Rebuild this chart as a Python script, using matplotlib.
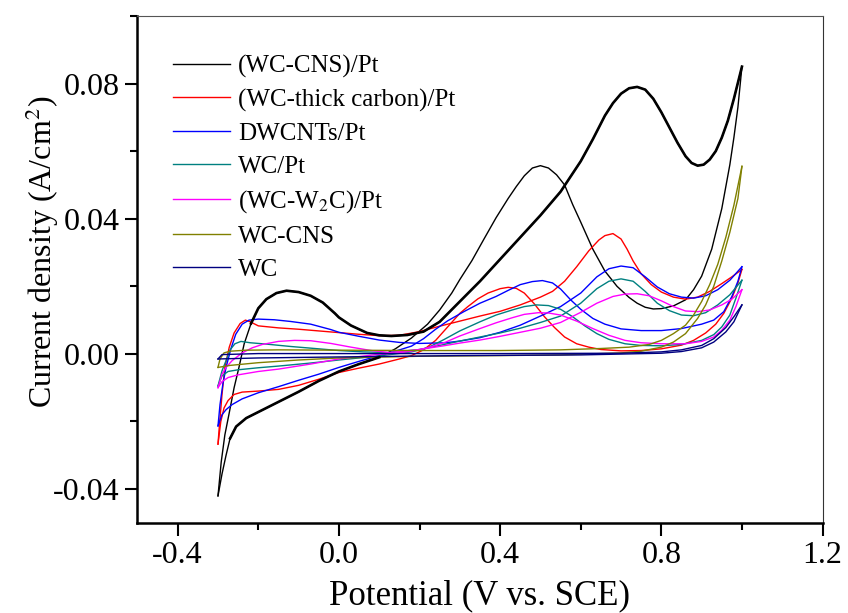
import matplotlib
matplotlib.use("Agg")
import matplotlib.pyplot as plt
from matplotlib.ticker import MultipleLocator

plt.rcParams['font.family'] = ['Liberation Serif', 'DejaVu Serif']
plt.rcParams['mathtext.fontset'] = 'stix'

# (WC-CNS)/Pt
v_cnspt_f = [-0.300, -0.292, -0.283, -0.273, -0.260, -0.248, -0.235, -0.218, -0.200, -0.180,
             -0.155, -0.130, -0.100, -0.070, -0.040, -0.010, 0.000, 0.030, 0.070, 0.100,
             0.130, 0.170, 0.210, 0.250, 0.300, 0.350, 0.400, 0.450, 0.500, 0.550,
             0.600, 0.630, 0.660, 0.680, 0.700, 0.720, 0.740, 0.760, 0.780, 0.800,
             0.820, 0.840, 0.860, 0.875, 0.890, 0.905, 0.920, 0.935, 0.950, 0.965,
             0.980, 1.000]
j_cnspt_f = [-0.0420, -0.0320, -0.0240, -0.0180, -0.0100, -0.0040, 0.0030, 0.0090, 0.0135, 0.0162,
             0.0180, 0.0187, 0.0183, 0.0172, 0.0152, 0.0120, 0.0108, 0.0084, 0.0062, 0.0055,
             0.0053, 0.0056, 0.0066, 0.0095, 0.0155, 0.0215, 0.0280, 0.0345, 0.0410, 0.0480,
             0.0570, 0.0635, 0.0705, 0.0742, 0.0770, 0.0786, 0.0790, 0.0782, 0.0755, 0.0715,
             0.0670, 0.0625, 0.0585, 0.0565, 0.0557, 0.0560, 0.0575, 0.0600, 0.0640, 0.0690,
             0.0755, 0.0850]
v_cnspt_b = [1.000, 0.990, 0.980, 0.970, 0.950, 0.925, 0.900, 0.880, 0.860, 0.830,
             0.800, 0.780, 0.760, 0.740, 0.720, 0.690, 0.660, 0.630, 0.600, 0.580,
             0.560, 0.540, 0.520, 0.500, 0.480, 0.460, 0.440, 0.420, 0.390, 0.360,
             0.330, 0.300, 0.280, 0.250, 0.220, 0.180, 0.140, 0.100, 0.050, 0.000,
             -0.050, -0.100, -0.150, -0.200, -0.230, -0.255, -0.270, -0.280, -0.290, -0.300]
j_cnspt_b = [0.0850, 0.0730, 0.0640, 0.0560, 0.0430, 0.0310, 0.0230, 0.0190, 0.0160, 0.0142,
             0.0134, 0.0133, 0.0138, 0.0150, 0.0167, 0.0200, 0.0245, 0.0310, 0.0390, 0.0442,
             0.0500, 0.0530, 0.0550, 0.0557, 0.0550, 0.0527, 0.0495, 0.0460, 0.0403, 0.0340,
             0.0276, 0.0220, 0.0180, 0.0130, 0.0088, 0.0047, 0.0015, -0.0010, -0.0030, -0.0052,
             -0.0080, -0.0112, -0.0142, -0.0172, -0.0190, -0.0215, -0.0250, -0.0300, -0.0355, -0.0420]

# (WC-thick carbon)/Pt
v_thick_f = [-0.300, -0.297, -0.290, -0.283, -0.272, -0.260, -0.245, -0.232, -0.220, -0.200,
             -0.150, -0.100, -0.050, 0.000, 0.050, 0.100, 0.150, 0.200, 0.250, 0.300,
             0.350, 0.400, 0.450, 0.500, 0.530, 0.560, 0.590, 0.620, 0.645, 0.660,
             0.680, 0.700, 0.715, 0.730, 0.750, 0.775, 0.800, 0.830, 0.860, 0.890,
             0.920, 0.950, 0.975, 1.000]
j_thick_f = [-0.0267, -0.0220, -0.0120, -0.0040, 0.0020, 0.0062, 0.0090, 0.0100, 0.0095, 0.0083,
             0.0077, 0.0073, 0.0068, 0.0063, 0.0058, 0.0054, 0.0055, 0.0066, 0.0082, 0.0097,
             0.0112, 0.0126, 0.0145, 0.0168, 0.0185, 0.0215, 0.0258, 0.0305, 0.0337, 0.0350,
             0.0356, 0.0340, 0.0310, 0.0275, 0.0237, 0.0205, 0.0183, 0.0168, 0.0162, 0.0168,
             0.0185, 0.0208, 0.0228, 0.0250]
v_thick_b = [1.000, 0.990, 0.975, 0.955, 0.935, 0.910, 0.880, 0.850, 0.800, 0.750,
             0.700, 0.650, 0.620, 0.590, 0.560, 0.535, 0.510, 0.485, 0.460, 0.440,
             0.420, 0.400, 0.370, 0.345, 0.320, 0.300, 0.270, 0.240, 0.210, 0.180,
             0.150, 0.100, 0.050, 0.000, -0.050, -0.100, -0.150, -0.200, -0.240, -0.260,
             -0.275, -0.285, -0.293, -0.300]
j_thick_b = [0.0250, 0.0210, 0.0165, 0.0120, 0.0088, 0.0062, 0.0040, 0.0026, 0.0015, 0.0010,
             0.0009, 0.0013, 0.0020, 0.0030, 0.0050, 0.0078, 0.0110, 0.0148, 0.0180, 0.0194,
             0.0197, 0.0193, 0.0180, 0.0163, 0.0140, 0.0120, 0.0080, 0.0040, 0.0012, -0.0005,
             -0.0015, -0.0030, -0.0042, -0.0055, -0.0075, -0.0093, -0.0105, -0.0110, -0.0113, -0.0120,
             -0.0138, -0.0160, -0.0200, -0.0267]

# DWCNTs/Pt
v_dw_f = [-0.300, -0.295, -0.288, -0.280, -0.268, -0.256, -0.240, -0.223, -0.200, -0.160,
          -0.120, -0.070, -0.020, 0.000, 0.050, 0.100, 0.150, 0.200, 0.265, 0.300,
          0.350, 0.400, 0.450, 0.500, 0.550, 0.600, 0.640, 0.670, 0.700, 0.730,
          0.760, 0.790, 0.820, 0.850, 0.880, 0.910, 0.940, 0.970, 1.000]
j_dw_f = [-0.0213, -0.0150, -0.0090, -0.0040, 0.0015, 0.0058, 0.0088, 0.0100, 0.0103, 0.0101,
          0.0096, 0.0088, 0.0072, 0.0064, 0.0052, 0.0041, 0.0034, 0.0031, 0.0033, 0.0038,
          0.0048, 0.0064, 0.0085, 0.0112, 0.0140, 0.0180, 0.0228, 0.0252, 0.0260, 0.0255,
          0.0228, 0.0198, 0.0178, 0.0168, 0.0165, 0.0172, 0.0190, 0.0218, 0.0258]
v_dw_b = [1.000, 0.990, 0.975, 0.955, 0.930, 0.900, 0.850, 0.800, 0.750, 0.700,
          0.660, 0.630, 0.600, 0.575, 0.550, 0.530, 0.505, 0.480, 0.450, 0.420,
          0.390, 0.350, 0.310, 0.270, 0.240, 0.210, 0.180, 0.140, 0.100, 0.050,
          0.000, -0.050, -0.100, -0.150, -0.200, -0.240, -0.265, -0.280, -0.290, -0.300]
j_dw_b = [0.0258, 0.0215, 0.0170, 0.0125, 0.0100, 0.0088, 0.0075, 0.0069, 0.0069, 0.0074,
          0.0088, 0.0105, 0.0132, 0.0160, 0.0192, 0.0210, 0.0217, 0.0214, 0.0205, 0.0188,
          0.0170, 0.0150, 0.0125, 0.0098, 0.0073, 0.0045, 0.0023, 0.0008, -0.0005, -0.0022,
          -0.0040, -0.0060, -0.0078, -0.0097, -0.0115, -0.0133, -0.0150, -0.0165, -0.0180, -0.0213]

# WC/Pt
v_wcpt_f = [-0.300, -0.290, -0.280, -0.270, -0.258, -0.243, -0.220, -0.180, -0.120, -0.060,
            0.000, 0.060, 0.124, 0.200, 0.250, 0.300, 0.350, 0.400, 0.450, 0.500,
            0.550, 0.600, 0.640, 0.670, 0.700, 0.730, 0.760, 0.790, 0.820, 0.850,
            0.880, 0.910, 0.940, 0.970, 1.000]
j_wcpt_f = [-0.0095, -0.0050, -0.0020, 0.0012, 0.0030, 0.0037, 0.0033, 0.0029, 0.0022, 0.0016,
            0.0010, 0.0006, 0.0004, 0.0013, 0.0025, 0.0038, 0.0050, 0.0062, 0.0076, 0.0093,
            0.0112, 0.0150, 0.0193, 0.0215, 0.0222, 0.0215, 0.0185, 0.0150, 0.0128, 0.0115,
            0.0113, 0.0122, 0.0145, 0.0175, 0.0218]
v_wcpt_b = [1.000, 0.985, 0.970, 0.950, 0.930, 0.900, 0.850, 0.800, 0.750, 0.710,
            0.670, 0.640, 0.610, 0.580, 0.550, 0.520, 0.490, 0.460, 0.430, 0.390,
            0.350, 0.300, 0.260, 0.220, 0.180, 0.140, 0.100, 0.050, 0.000, -0.070,
            -0.150, -0.200, -0.250, -0.275, -0.290, -0.300]
j_wcpt_b = [0.0218, 0.0165, 0.0115, 0.0080, 0.0057, 0.0040, 0.0028, 0.0024, 0.0025, 0.0030,
            0.0043, 0.0060, 0.0083, 0.0110, 0.0132, 0.0143, 0.0145, 0.0140, 0.0130, 0.0115,
            0.0095, 0.0068, 0.0042, 0.0018, 0.0006, 0.0000, -0.0006, -0.0012, -0.0018, -0.0027,
            -0.0036, -0.0041, -0.0047, -0.0052, -0.0065, -0.0095]

# (WC-W2C)/Pt
v_w2c_f = [-0.300, -0.290, -0.280, -0.265, -0.240, -0.215, -0.190, -0.150, -0.110, -0.070,
           -0.020, 0.030, 0.080, 0.124, 0.200, 0.260, 0.300, 0.350, 0.400, 0.450,
           0.500, 0.550, 0.600, 0.640, 0.680, 0.710, 0.740, 0.770, 0.800, 0.830,
           0.860, 0.890, 0.920, 0.950, 0.975, 1.000]
j_w2c_f = [-0.0100, -0.0060, -0.0040, -0.0020, 0.0003, 0.0018, 0.0028, 0.0037, 0.0040, 0.0039,
           0.0031, 0.0020, 0.0010, 0.0004, 0.0013, 0.0024, 0.0032, 0.0041, 0.0052, 0.0064,
           0.0076, 0.0093, 0.0123, 0.0150, 0.0170, 0.0177, 0.0178, 0.0172, 0.0157, 0.0140,
           0.0127, 0.0125, 0.0130, 0.0145, 0.0162, 0.0190]
v_w2c_b = [1.000, 0.985, 0.970, 0.950, 0.930, 0.900, 0.860, 0.800, 0.750, 0.710,
           0.670, 0.630, 0.590, 0.550, 0.520, 0.495, 0.460, 0.430, 0.390, 0.350,
           0.300, 0.265, 0.220, 0.180, 0.140, 0.100, 0.050, 0.000, -0.070, -0.150,
           -0.200, -0.250, -0.275, -0.290, -0.300]
j_w2c_b = [0.0190, 0.0140, 0.0100, 0.0070, 0.0050, 0.0037, 0.0030, 0.0030, 0.0033, 0.0040,
           0.0055, 0.0075, 0.0097, 0.0115, 0.0121, 0.0122, 0.0117, 0.0107, 0.0092, 0.0075,
           0.0053, 0.0035, 0.0018, 0.0008, 0.0002, -0.0001, -0.0008, -0.0015, -0.0030, -0.0045,
           -0.0052, -0.0062, -0.0070, -0.0082, -0.0100]

# WC-CNS
v_cns_f = [-0.300, -0.295, -0.285, -0.270, -0.230, -0.150, 0.000, 0.200, 0.400, 0.550,
           0.650, 0.720, 0.770, 0.800, 0.830, 0.860, 0.880, 0.900, 0.920, 0.940,
           0.960, 0.980, 1.000]
j_cns_f = [-0.0040, -0.0015, 0.0003, 0.0008, 0.0011, 0.0012, 0.0011, 0.0010, 0.0010, 0.0012,
           0.0016, 0.0020, 0.0028, 0.0040, 0.0060, 0.0085, 0.0115, 0.0155, 0.0205, 0.0265,
           0.0345, 0.0440, 0.0555]
v_cns_b = [1.000, 0.990, 0.970, 0.950, 0.930, 0.910, 0.890, 0.860, 0.830, 0.800,
           0.750, 0.700, 0.550, 0.400, 0.200, 0.000, -0.100, -0.200, -0.270, -0.300]
j_cns_b = [0.0555, 0.0460, 0.0360, 0.0275, 0.0200, 0.0145, 0.0105, 0.0060, 0.0035, 0.0020,
           0.0008, 0.0003, -0.0003, -0.0005, -0.0007, -0.0012, -0.0018, -0.0026, -0.0034, -0.0040]

# WC
v_wc_f = [-0.300, -0.290, -0.200, 0.000, 0.400, 0.700, 0.800, 0.850, 0.900, 0.930,
          0.960, 0.980, 1.000]
j_wc_f = [-0.0015, -0.0002, 0.0001, 0.0001, 0.0001, 0.0002, 0.0006, 0.0012, 0.0025, 0.0045,
          0.0078, 0.0110, 0.0145]
v_wc_b = [1.000, 0.980, 0.960, 0.930, 0.900, 0.850, 0.800, 0.600, 0.300, 0.000,
          -0.200, -0.300]
j_wc_b = [0.0145, 0.0095, 0.0065, 0.0035, 0.0018, 0.0007, 0.0002, -0.0003, -0.0005, -0.0009,
          -0.0012, -0.0015]

labels = ['(WC-CNS)/Pt', '(WC-thick carbon)/Pt', 'DWCNTs/Pt', 'WC/Pt',
          '(WC-W$_2$C)/Pt', 'WC-CNS', 'WC']
colors = ['black', '#ff0000', '#0000ff', '#008080', '#ff00ff', '#808000', '#000080']

curves = [(v_cnspt_f, j_cnspt_f, v_cnspt_b, j_cnspt_b),
          (v_thick_f, j_thick_f, v_thick_b, j_thick_b),
          (v_dw_f, j_dw_f, v_dw_b, j_dw_b),
          (v_wcpt_f, j_wcpt_f, v_wcpt_b, j_wcpt_b),
          (v_w2c_f, j_w2c_f, v_w2c_b, j_w2c_b),
          (v_cns_f, j_cns_f, v_cns_b, j_cns_b),
          (v_wc_f, j_wc_f, v_wc_b, j_wc_b)]

fig = plt.figure(figsize=(8.48, 6.13), dpi=100)
ax = fig.add_axes([0.162, 0.147, 0.808, 0.827])

for i in range(len(curves)):
    vf, jf, vb, jb = curves[i]
    ax.plot(vf, jf, color=colors[i], lw=1.0, label=labels[i])
    ax.plot(vb, jb, color=colors[i], lw=1.0)

# parts of the (WC-CNS)/Pt loop are drawn heavier in the original
ax.plot(v_cnspt_f[7:], j_cnspt_f[7:], color='black', lw=1.9)
ax.plot(v_cnspt_b[37:47], j_cnspt_b[37:47], color='black', lw=1.9)

ax.set_xlim(-0.5, 1.2)
ax.set_ylim(-0.05, 0.10)
ax.xaxis.set_minor_locator(MultipleLocator(0.2))
ax.yaxis.set_minor_locator(MultipleLocator(0.02))
ax.set_xticks([-0.4, 0.0, 0.4, 0.8, 1.2])
ax.set_xticklabels(['-0.4', '0.0', '0.4', '0.8', '1.2'])
ax.set_yticks([-0.04, 0.0, 0.04, 0.08])
ax.set_yticklabels(['-0.04', '0.00', '0.04', '0.08'])

ax.tick_params(which='major', direction='out', length=9, width=1.5, labelsize=23, pad=4)
ax.tick_params(which='minor', direction='out', length=5, width=1.5)
ax.tick_params(top=False, right=False, which='both')

ax.spines['left'].set_linewidth(1.8)
ax.spines['bottom'].set_linewidth(1.8)
ax.spines['top'].set_linewidth(0.8)
ax.spines['right'].set_linewidth(0.8)
ax.spines['top'].set_color('#555555')
ax.spines['right'].set_color('#333333')

ax.set_xlabel('Potential (V vs. SCE)', fontsize=25, labelpad=7)
ax.set_ylabel('Current density (A/cm$^2$)', fontsize=23)
ax.yaxis.set_label_coords(-0.112, 0.535)

ax.legend(loc='upper left', bbox_to_anchor=(0.037, 0.943), frameon=False, fontsize=18,
          handlelength=2.3, handletextpad=0.3, labelspacing=0.42, borderaxespad=0)

fig.savefig('out.png', dpi=100)
